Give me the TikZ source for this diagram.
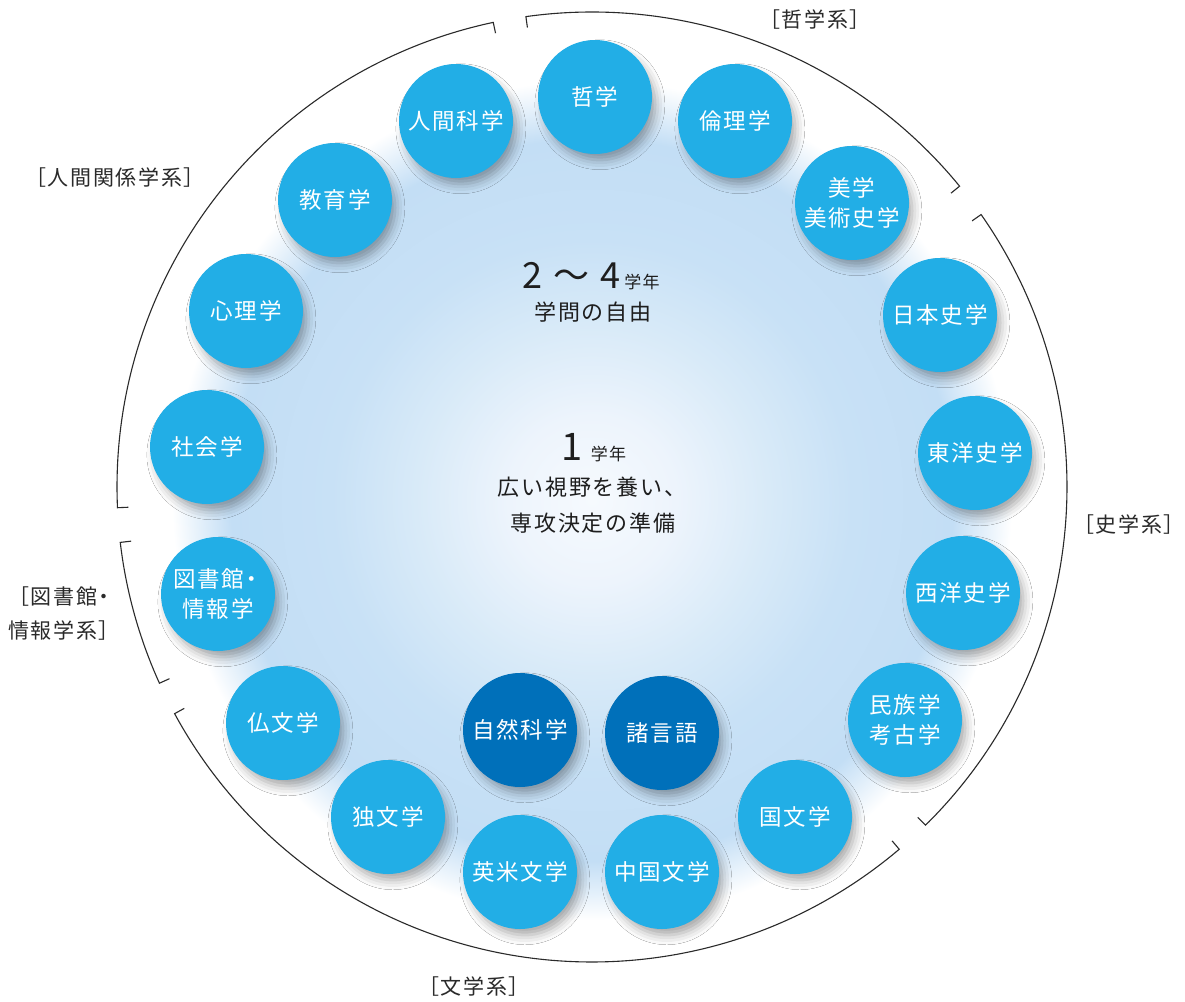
\documentclass[tikz,border=0pt]{standalone}
\usepackage{fontspec}
\setmainfont{Noto Sans CJK JP}
\newfontfamily\jpsp[LetterSpace=8]{Noto Sans CJK JP}
\usetikzlibrary{calc,shadows.blur}
\definecolor{subjc}{HTML}{22AEE6}
\definecolor{corec}{HTML}{0070BA}
\definecolor{labc}{HTML}{2A2A2A}
\definecolor{txtc}{HTML}{1E1E1E}
\definecolor{bgA}{HTML}{F6FAFE}
\definecolor{bgB}{HTML}{EDF4FC}
\definecolor{bgC}{HTML}{D8EAF8}
\definecolor{bgD}{HTML}{C8E1F6}
\definecolor{bgE}{HTML}{C3DEF5}
% the circle's edge corresponds to 25bp of the shading
\pgfdeclareradialshading{bgglow}{\pgfpointorigin}{color(0bp)=(bgA); color(5bp)=(bgB); color(10.5bp)=(bgC); color(15.5bp)=(bgD); color(21.5bp)=(bgE); color(25bp)=(white); color(50bp)=(white)}
\tikzset{
  subj/.style={circle, minimum size=114pt, inner sep=0pt, fill=subjc, text=white,
    font={\fontsize{22.5}{30}\jpsp}, align=center,
    blur shadow={shadow xshift=5pt, shadow yshift=-8pt, shadow scale=0.97, shadow blur radius=10pt, shadow opacity=36}},
  core/.style={subj, fill=corec},
  grouplabel/.style={text=labc, font={\fontsize{21}{34}\jpsp}, inner sep=0pt},
  centertext/.style={text=txtc, inner sep=0pt, font={\fontsize{22}{26}\jpsp}},
  bracketline/.style={draw=labc, line width=1.1pt, line join=miter},
}
\newcommand\grpbracket[2]{%
  \draw[bracketline] ($(C)+(#1:464)$) -- ($(C)+(#1:475)$) arc[start angle=#1, end angle=#2, radius=475] -- ($(C)+(#2:464)$);}
\begin{document}
\begin{tikzpicture}[x=1pt,y=1pt]
\useasboundingbox (0,0) rectangle (1185,-1001);
\fill[white] (0,0) rectangle (1185,-1001);
\shade[shading=bgglow] (592,-500) circle[radius=420];
\coordinate (C) at (592,-487);
% group brackets
\grpbracket{98}{39.3}
\grpbracket{35}{-45.4}
\grpbracket{-49.7}{-151.5}
\grpbracket{204.4}{186.7}
\grpbracket{182.5}{102}
% group labels
\node[grouplabel] (gphil) at (815,-20) {［哲学系］};
\node[grouplabel] (ghist) at (1129,-525) {［史学系］};
\node[grouplabel] (glit) at (474,-987) {［文学系］};
\node[grouplabel] (ghum) at (115,-178) {［人間関係学系］};
\node[grouplabel, anchor=west, align=left] (glib) at (8,-614) {［図書館\hspace{-4pt}・\\ 情報学系］};
% subject circles
\node[subj] (phil) at (595,-97) {哲学};
\node[subj] (ethics) at (735,-121) {倫理学};
\node[subj] (aesth) at (852,-203) {美学\\美術史学};
\node[subj] (jhist) at (940,-315) {日本史学};
\node[subj] (ehist) at (975,-453) {東洋史学};
\node[subj] (whist) at (963,-593) {西洋史学};
\node[subj] (ethno) at (905,-720) {民族学\\考古学};
\node[subj] (jlit) at (795,-817) {国文学};
\node[subj] (clit) at (662,-872) {中国文学};
\node[subj] (elit) at (520,-872) {英米文学};
\node[subj] (glitc) at (388,-817) {独文学};
\node[subj] (flit) at (283,-723) {仏文学};
\node[subj] (lib) at (218,-594) {図書館\hspace{-4pt}・\\情報学};
\node[subj] (soc) at (207,-447) {社会学};
\node[subj] (psy) at (246,-311) {心理学};
\node[subj] (edu) at (335,-200) {教育学};
\node[subj] (hum) at (456,-121) {人間科学};
\node[core] (nat) at (520,-730) {自然科学};
\node[core] (lang) at (662,-733) {諸言語};
% center texts
\node[centertext, anchor=base] (t24) at (591,-288) {{\fontsize{36}{36}\selectfont 2\hspace{11pt}～\hspace{11pt}4}\hspace{4pt}{\fontsize{17}{17}\selectfont 学年}};
\node[centertext] (tfree) at (593,-312) {学問の自由};
\node[centertext, anchor=base] (t1) at (594,-460) {{\fontsize{38}{38}\selectfont 1}\hspace{8pt}{\fontsize{17}{17}\selectfont 学年}};
\node[centertext] (tbroad) at (592,-487) {広い視野を養い、};
\node[centertext] (tprep) at (593,-523) {専攻決定の準備};
\end{tikzpicture}
\end{document}
